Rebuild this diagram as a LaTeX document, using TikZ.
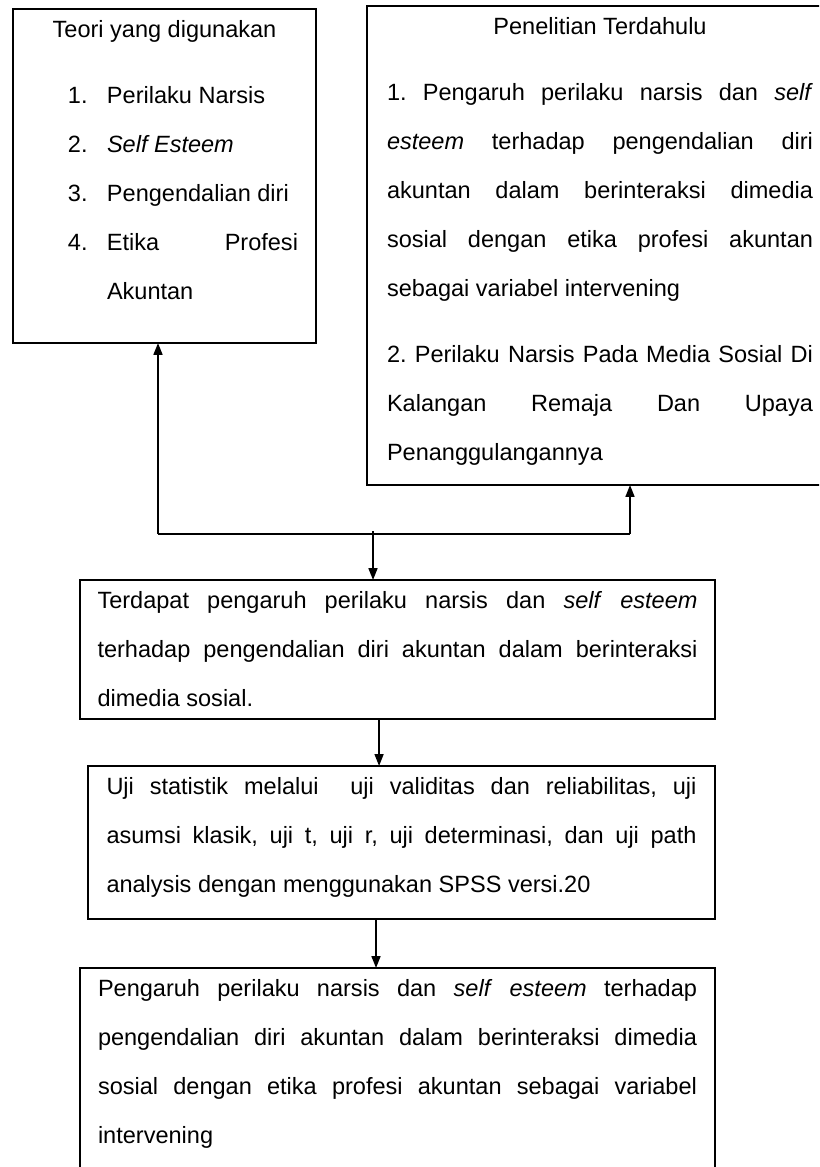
\documentclass[tikz,border=0pt]{standalone}
\usepackage{fontspec}
\setmainfont{Liberation Sans}
\usepackage{tikz}
\usetikzlibrary{arrows.meta,positioning}
\newlength{\pxl}
\setlength{\pxl}{0.51pt}
\newcommand{\atas}{\rule{0pt}{28\pxl}}
\newcommand{\isi}[3]{\parbox[c][#2\pxl][t]{#1\pxl}{\fontsize{12pt}{25pt}\selectfont\frenchspacing\hyphenpenalty=10000 #3}}
\newcommand{\butir}[2]{\par\noindent\hspace*{-39\pxl}\makebox[39\pxl][l]{#1}#2}

\begin{document}
\begin{tikzpicture}[x=0.51pt,y=-0.51pt,
  kotak/.style={draw,line width=0.9pt,inner ysep=0pt,outer sep=0pt,anchor=north west},
  garis/.style={line width=0.9pt},
  panah/.style={garis,-{Triangle[length=6pt,width=4.5pt]}}]
  \useasboundingbox (0,0) rectangle (819,1167);
  \clip (0,0) rectangle (819,1167);
  % kotak atas
  \node[kotak,inner xsep=9.18pt] (teori) at (13,9) {\isi{267}{334}{%
    {\centering\atas Teori yang digunakan\par}
    \vspace{17\pxl}
    \leftskip=76\pxl
    \butir{1.}{Perilaku Narsis}
    \butir{2.}{\emph{Self Esteem}}
    \butir{3.}{Pengendalian diri}
    \butir{4.}{Etika Profesi Akuntan}\par}};
  \node[kotak,inner xsep=10.2pt] (terdahulu) at (367,6) {\isi{426}{479}{%
    {\centering\atas Penelitian Terdahulu\par}
    \vspace{17\pxl}
    1. Pengaruh perilaku narsis dan \emph{self}\linebreak \emph{esteem} terhadap pengendalian diri\linebreak akuntan dalam berinteraksi dimedia\linebreak sosial dengan etika profesi akuntan\linebreak sebagai variabel intervening\par
    \vspace{17\pxl}
    2. Perilaku Narsis Pada Media Sosial Di\linebreak Kalangan Remaja Dan Upaya\linebreak Penanggulangannya\par}};
  % kotak alur
  \node[kotak,inner xsep=8.925pt] (temuan) at (80,580) {\isi{600}{139}{%
    \atas Terdapat pengaruh perilaku narsis dan \emph{self} \emph{esteem}\linebreak terhadap pengendalian diri akuntan dalam berinteraksi\linebreak dimedia sosial.\par}};
  \node[kotak,inner xsep=9.435pt] (uji) at (88,766) {\isi{590}{153}{%
    \atas Uji statistik melalui\ \ uji validitas dan reliabilitas, uji\linebreak asumsi klasik, uji t, uji r, uji determinasi, dan uji path\linebreak analysis dengan menggunakan SPSS versi.20\par}};
  \node[kotak,inner xsep=9.18pt] (hasil) at (80,968) {\isi{599}{222}{%
    \atas Pengaruh perilaku narsis dan \emph{self} \emph{esteem} terhadap\linebreak pengendalian diri akuntan dalam berinteraksi dimedia\linebreak sosial dengan etika profesi akuntan sebagai variabel\linebreak intervening\par}};
  % penghubung
  \coordinate (kiri) at (158,534);
  \coordinate (kanan) at (630,534);
  \coordinate (cabang) at (373,531);
  \draw[garis] (kiri) -- (kanan);
  \draw[panah] (kiri) -- (kiri |- teori.south);
  \draw[panah] (kanan) -- (kanan |- terdahulu.south);
  \draw[panah] (cabang) -- (cabang |- temuan.north);
  \coordinate (t3) at ([xshift=-9.4pt]temuan.south);
  \draw[panah] (t3) -- (t3 |- uji.north);
  \coordinate (t4) at ([xshift=-13pt]uji.south);
  \draw[panah] (t4) -- (t4 |- hasil.north);
\end{tikzpicture}
\end{document}
